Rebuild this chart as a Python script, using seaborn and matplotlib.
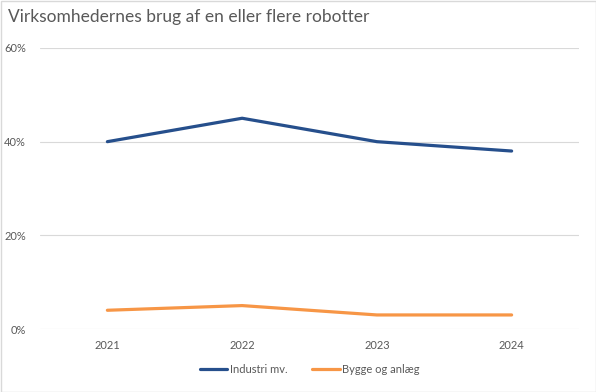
import pandas as pd
import seaborn as sns
import matplotlib.pyplot as plt
from matplotlib.ticker import PercentFormatter

# data
years = ["2021", "2022", "2023", "2024"]
industri = [40, 45, 40, 38]
bygge = [4, 5, 3, 3]
series_names = ["Industri mv.", "Bygge og anlæg"]
colors = ["#264f8c", "#f79646"]

df = pd.DataFrame({
    "year": years * 2,
    "value": industri + bygge,
    "series": [series_names[0]] * len(years) + [series_names[1]] * len(years),
})

sns.set_theme(style="white")
plt.rcParams["font.family"] = ["Lato", "DejaVu Sans"]

fig = plt.figure(figsize=(5.96, 3.92), dpi=100)
ax = fig.add_axes([40 / 596, 1 - 329 / 392, (579 - 40) / 596, (329 - 48) / 392])

sns.lineplot(data=df, x="year", y="value", hue="series", palette=colors,
             linewidth=2.3, ax=ax, sort=False)

ax.set_xlim(-0.5, 3.5)
ax.set_ylim(0, 60)
ax.set_yticks([0, 20, 40, 60])
ax.yaxis.set_major_formatter(PercentFormatter(decimals=0))
ax.grid(axis="y", color="#d9d9d9", linewidth=0.8)
ax.set_axisbelow(True)
for s in ax.spines.values():
    s.set_visible(False)
ax.tick_params(axis="both", length=0, labelsize=8, labelcolor="#595959", pad=8)
ax.tick_params(axis="y", pad=10)
ax.set_xlabel("")
ax.set_ylabel("")

fig.text(8 / 596, 1 - 17 / 392, "Virksomhedernes brug af en eller flere robotter",
         fontsize=12.5, color="#595959", va="center", ha="left")

handles, labels = ax.get_legend_handles_labels()
ax.legend(handles, labels, loc="center", bbox_to_anchor=(0.5, -0.145), ncol=2,
          frameon=False, fontsize=8, labelcolor="#595959", handlelength=2.5,
          handletextpad=0.2, columnspacing=2.2)

fig.patches.append(plt.Rectangle((0.5 / 596, 0.5 / 392), 595 / 596, 391 / 392,
                                 transform=fig.transFigure, fill=False,
                                 edgecolor="#d9d9d9", linewidth=1))

fig.savefig("out.png", dpi=100)
